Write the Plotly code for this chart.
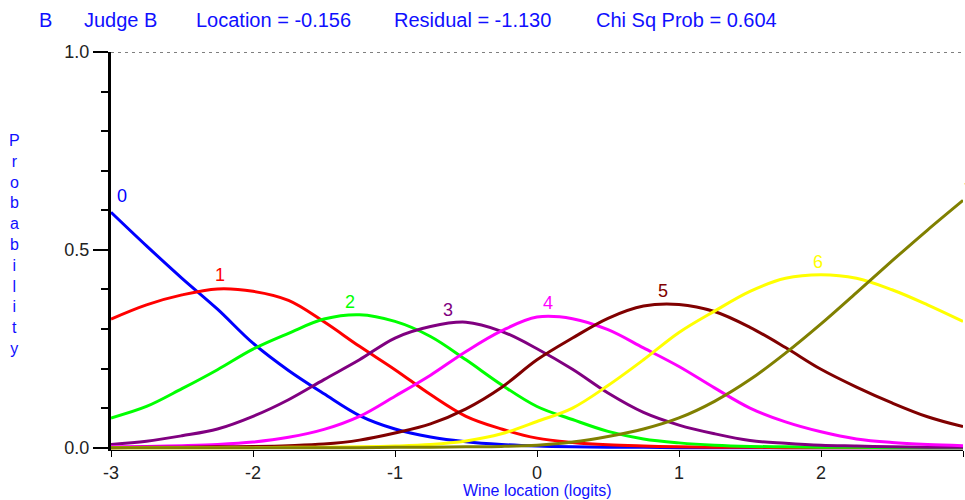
import plotly.graph_objects as go

# ---- data ----
logits = [-3.0, -2.75, -2.5, -2.25, -2.0, -1.75, -1.5, -1.25, -1.0, -0.75, -0.5, -0.25,
          0.0, 0.25, 0.5, 0.75, 1.0, 1.25, 1.5, 1.75, 2.0, 2.25, 2.5, 2.75, 3.0]

cat0 = [0.595, 0.510, 0.428, 0.350, 0.264, 0.195, 0.136, 0.081, 0.047, 0.027, 0.015, 0.008,
        0.004, 0.002, 0.001, 0.001, 0.0, 0.0, 0.0, 0.0, 0.0, 0.0, 0.0, 0.0, 0.0]
cat1 = [0.325, 0.361, 0.386, 0.401, 0.395, 0.372, 0.318, 0.256, 0.197, 0.134, 0.079, 0.047,
        0.024, 0.013, 0.007, 0.004, 0.002, 0.001, 0.001, 0.0, 0.0, 0.0, 0.0, 0.0, 0.0]
cat2 = [0.075, 0.104, 0.149, 0.197, 0.249, 0.289, 0.325, 0.336, 0.319, 0.281, 0.222, 0.159,
        0.104, 0.071, 0.041, 0.022, 0.012, 0.006, 0.003, 0.002, 0.001, 0.001, 0.0, 0.0, 0.0]
cat3 = [0.008, 0.016, 0.030, 0.047, 0.079, 0.121, 0.172, 0.222, 0.277, 0.306, 0.317, 0.294,
        0.250, 0.198, 0.138, 0.089, 0.057, 0.035, 0.018, 0.011, 0.006, 0.004, 0.002, 0.001, 0.001]
cat4 = [0.002, 0.003, 0.005, 0.008, 0.014, 0.026, 0.046, 0.079, 0.130, 0.183, 0.243, 0.295,
        0.330, 0.326, 0.298, 0.252, 0.205, 0.151, 0.100, 0.065, 0.040, 0.022, 0.013, 0.008, 0.005]
cat5 = [0.0, 0.001, 0.001, 0.002, 0.003, 0.005, 0.009, 0.019, 0.037, 0.060, 0.098, 0.152,
        0.222, 0.277, 0.327, 0.358, 0.362, 0.344, 0.304, 0.253, 0.198, 0.153, 0.113, 0.078, 0.053]
cat6 = [0.0, 0.0, 0.0, 0.0, 0.0, 0.001, 0.001, 0.002, 0.004, 0.008, 0.017, 0.035,
        0.066, 0.100, 0.157, 0.222, 0.291, 0.345, 0.395, 0.428, 0.437, 0.428, 0.399, 0.361, 0.319]
cat7 = [0.0, 0.0, 0.0, 0.0, 0.0, 0.0, 0.0, 0.0, 0.001, 0.001, 0.002, 0.003,
        0.006, 0.014, 0.028, 0.047, 0.075, 0.117, 0.172, 0.239, 0.313, 0.392, 0.472, 0.550, 0.625]

series = [cat0, cat1, cat2, cat3, cat4, cat5, cat6, cat7]
series_names = ["0", "1", "2", "3", "4", "5", "6", "7"]
colors = ["#0000FF", "#FF0000", "#00FF00", "#800080", "#FF00FF", "#800000", "#FFFF00", "#808000"]

# label positions (logit, probability)
label_x = [-2.97, -2.23, -1.32, -0.63, 0.08, 0.89, 1.98, 2.99]
label_y = [0.605, 0.405, 0.338, 0.318, 0.334, 0.365, 0.440, 0.622]

y_tickvals = [0.0, 0.5, 1.0]
y_ticktext = ["0.0", "0.5", "1.0"]
x_tickvals = [-3, -2, -1, 0, 1, 2, 3]
x_ticktext = ["-3", "-2", "-1", "0", "1", "2", "3"]

header_parts = ["B", "Judge B", "Location = -0.156", "Residual = -1.130", "Chi Sq Prob = 0.604"]
header_px = [37, 82, 194, 392, 594]

FONT = "Liberation Sans, Arial, sans-serif"
BLUE = "#1010FF"

# plot-area geometry in pixels (for placing paper-referenced texts)
L, R, T, B = 111, 963, 52, 450


def px_to_paper(px, py):
    return (px - L) / (R - L), (B - py) / (B - T)


fig = go.Figure()
for vals, name, col in zip(series, series_names, colors):
    fig.add_trace(go.Scatter(x=logits, y=vals, mode="lines", name=name,
                             line=dict(color=col, width=3, shape="spline", smoothing=1.0),
                             showlegend=False, hoverinfo="skip"))

annotations = []
for name, col, lx, ly in zip(series_names, colors, label_x, label_y):
    annotations.append(dict(x=lx, y=ly, xref="x", yref="y", text=name, showarrow=False,
                            xanchor="left" if name in ("0", "7") else "center",
                            yanchor="bottom", font=dict(family=FONT, size=18, color=col)))

for txt, px in zip(header_parts, header_px):
    ax, ay = px_to_paper(px, 20)
    annotations.append(dict(x=ax, y=ay, xref="paper", yref="paper",
                            text=txt, showarrow=False, xanchor="left", yanchor="middle",
                            font=dict(family=FONT, size=20, color=BLUE)))

# stacked y title
ax, ay = px_to_paper(14, 244)
annotations.append(dict(x=ax, y=ay, xref="paper", yref="paper",
                        text="<br>".join(list("Probability")), showarrow=False,
                        xanchor="center", yanchor="middle", align="center",
                        font=dict(family=FONT, size=16, color=BLUE)))
# x title
ax, ay = px_to_paper(537, 490)
annotations.append(dict(x=ax, y=ay, xref="paper", yref="paper",
                        text="Wine location (logits)", showarrow=False,
                        xanchor="center", yanchor="middle",
                        font=dict(family=FONT, size=16, color=BLUE)))

fig.update_layout(
    width=965, height=500,
    margin=dict(l=L, r=965 - R, t=T, b=500 - B, pad=0),
    paper_bgcolor="white", plot_bgcolor="white",
    annotations=annotations,
    shapes=[dict(type="line", xref="x", yref="y", x0=-3, x1=3, y0=1, y1=1,
                 line=dict(color="black", width=1, dash="3px,4px"))],
)
fig.update_xaxes(range=[-3, 3], tickvals=x_tickvals, ticktext=x_ticktext,
                 ticks="outside", ticklen=6, tickwidth=1, tickcolor="black",
                 showline=True, linecolor="black", linewidth=1,
                 showgrid=False, zeroline=False,
                 tickfont=dict(family=FONT, size=18, color="#222"))
fig.update_yaxes(range=[-0.006, 1.0], tickvals=y_tickvals, ticktext=y_ticktext,
                 ticks="outside", ticklen=15, tickwidth=2, tickcolor="black",
                 showline=True, linecolor="black", linewidth=3,
                 showgrid=False, zeroline=False,
                 minor=dict(tickvals=[0.1, 0.2, 0.3, 0.4, 0.6, 0.7, 0.8, 0.9],
                            ticks="outside", ticklen=7, tickwidth=2, tickcolor="black"),
                 tickfont=dict(family=FONT, size=18, color="#222"))

fig.write_html("out.html")
